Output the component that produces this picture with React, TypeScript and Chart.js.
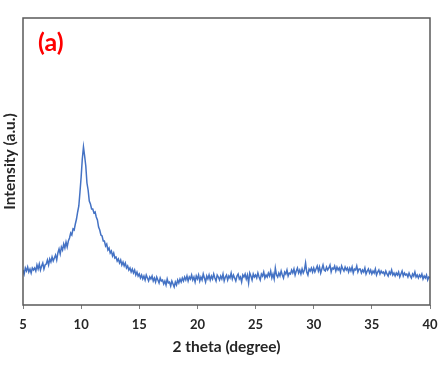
import React, { useEffect, useRef } from "react";
import { Chart, registerables } from "chart.js";

Chart.register(...registerables);

// 2 theta start / step for the intensity samples below (degrees)
const thetaStart = 5;
const thetaStep = 0.1;

// Intensity (a.u.), one row per degree, samples at x.0 ... x.9
const intensity5 = [35, 31, 37, 34, 38, 33, 36, 32, 37, 35];
const intensity6 = [37, 34, 40, 36, 41, 35, 39, 42, 36, 40];
const intensity7 = [41, 45, 40, 46, 43, 48, 44, 47, 50, 45];
const intensity8 = [52, 56, 51, 58, 55, 61, 57, 63, 58, 64];
const intensity9 = [67, 72, 70, 76, 75, 81, 86, 93, 99, 113];
const intensity10 = [128, 146, 158, 149, 139, 122, 115, 104, 101, 96];
const intensity11 = [96, 92, 93, 88, 85, 78, 75, 70, 69, 64];
const intensity12 = [64, 59, 61, 55, 57, 52, 54, 49, 52, 47];
const intensity13 = [48, 44, 46, 42, 45, 40, 43, 39, 42, 37];
const intensity14 = [39, 35, 37, 33, 36, 32, 35, 30, 33, 29];
const intensity15 = [31, 27, 30, 26, 29, 25, 30, 27, 24, 28];
const intensity16 = [26, 29, 24, 27, 23, 28, 25, 22, 27, 24];
const intensity17 = [25, 21, 24, 20, 26, 22, 23, 19, 24, 21];
const intensity18 = [18, 23, 20, 25, 22, 26, 23, 27, 24, 28];
const intensity19 = [25, 29, 24, 28, 26, 30, 25, 28, 23, 29];
const intensity20 = [26, 30, 24, 28, 25, 31, 27, 23, 29, 26];
const intensity21 = [30, 25, 29, 26, 31, 27, 24, 30, 28, 25];
const intensity22 = [29, 26, 31, 24, 28, 30, 25, 29, 27, 32];
const intensity23 = [26, 30, 27, 24, 29, 31, 26, 28, 23, 30];
const intensity24 = [28, 31, 26, 30, 22, 32, 29, 25, 31, 28];
const intensity25 = [30, 27, 32, 28, 25, 31, 29, 33, 27, 30];
const intensity26 = [28, 32, 29, 34, 27, 31, 26, 37, 30, 28];
const intensity27 = [32, 29, 34, 30, 27, 33, 31, 35, 29, 32];
const intensity28 = [31, 35, 32, 36, 30, 34, 37, 32, 35, 31];
const intensity29 = [36, 32, 35, 42, 33, 30, 36, 34, 37, 33];
const intensity30 = [37, 33, 36, 39, 34, 38, 32, 36, 40, 35];
const intensity31 = [34, 38, 35, 37, 40, 33, 37, 36, 39, 34];
const intensity32 = [38, 35, 37, 33, 39, 36, 34, 38, 35, 37];
const intensity33 = [33, 37, 34, 38, 32, 36, 35, 39, 33, 36];
const intensity34 = [36, 32, 35, 33, 37, 31, 34, 36, 32, 35];
const intensity35 = [31, 34, 32, 36, 30, 33, 35, 31, 34, 32];
const intensity36 = [33, 30, 34, 31, 29, 33, 31, 35, 30, 32];
const intensity37 = [29, 32, 30, 33, 28, 31, 34, 29, 32, 30];
const intensity38 = [31, 28, 32, 29, 27, 31, 29, 33, 28, 30];
const intensity39 = [27, 30, 28, 31, 26, 29, 27, 30, 25, 28];
const intensity40 = [27];

const intensityRows = [
  intensity5, intensity6, intensity7, intensity8, intensity9, intensity10,
  intensity11, intensity12, intensity13, intensity14, intensity15, intensity16,
  intensity17, intensity18, intensity19, intensity20, intensity21, intensity22,
  intensity23, intensity24, intensity25, intensity26, intensity27, intensity28,
  intensity29, intensity30, intensity31, intensity32, intensity33, intensity34,
  intensity35, intensity36, intensity37, intensity38, intensity39, intensity40,
];

const xTicks = [5, 10, 15, 20, 25, 30, 35, 40];
const panelLabel = "(a)";
const xTitle = "2 theta (degree)";
const yTitle = "Intensity (a.u.)";

const FONT = "Lato, 'Open Sans', sans-serif";

const framePlugin = {
  id: "frame",
  afterDraw(chart: any) {
    const { ctx, chartArea } = chart;
    ctx.save();
    ctx.strokeStyle = "#595959";
    ctx.lineWidth = 1.5;
    ctx.strokeRect(chartArea.left, chartArea.top, chartArea.right - chartArea.left, chartArea.bottom - chartArea.top);
    ctx.fillStyle = "#ff0000";
    ctx.font = `bold 25px ${FONT}`;
    ctx.textBaseline = "middle";
    ctx.textAlign = "left";
    ctx.fillText(panelLabel, chartArea.left + 15, chartArea.top + 25);
    ctx.restore();
  },
};

export default function App() {
  const ref = useRef<HTMLCanvasElement | null>(null);

  useEffect(() => {
    document.body.style.margin = "0";
    const values = intensityRows.flat();
    const points = values.map((v, i) => ({ x: thetaStart + i * thetaStep, y: v }));
    const chart = new Chart(ref.current as HTMLCanvasElement, {
      type: "line",
      data: {
        datasets: [
          {
            data: points,
            borderColor: "#4472C4",
            borderWidth: 1.5,
            pointRadius: 0,
            tension: 0,
            fill: false,
          },
        ],
      },
      options: {
        animation: false,
        responsive: true,
        maintainAspectRatio: false,
        layout: { padding: { top: 18, right: 11, left: 0, bottom: 0 } },
        plugins: { legend: { display: false }, tooltip: { enabled: false } },
        scales: {
          x: {
            type: "linear",
            min: 5,
            max: 40,
            afterBuildTicks(scale: any) {
              scale.ticks = xTicks.map((v) => ({ value: v }));
            },
            afterFit(scale: any) {
              scale.height = 64;
              scale.paddingLeft = 0;
              scale.paddingRight = 0;
            },
            border: { display: false },
            grid: { drawOnChartArea: false, drawTicks: true, tickLength: 4, color: "#7f7f7f" },
            ticks: {
              padding: 8,
              color: "#262626",
              font: { family: FONT, size: 13, weight: "bold" },
              maxRotation: 0,
            },
            title: {
              display: true,
              text: xTitle,
              color: "#262626",
              font: { family: FONT, size: 15.5, weight: "bold" },
              padding: { top: 0, bottom: 13 },
            },
          },
          y: {
            min: 0,
            max: 287,
            afterFit(scale: any) {
              scale.width = 23;
            },
            border: { display: false },
            grid: { display: false },
            ticks: { display: false },
            title: {
              display: true,
              text: yTitle,
              color: "#262626",
              font: { family: FONT, size: 15.5, weight: "bold" },
              padding: { top: 1, bottom: 0 },
            },
          },
        },
      },
      plugins: [framePlugin],
    });
    return () => chart.destroy();
  }, []);

  return (
    <div style={{ position: "fixed", left: 0, top: 0, width: 441, height: 369 }}>
      <canvas ref={ref} />
    </div>
  );
}
